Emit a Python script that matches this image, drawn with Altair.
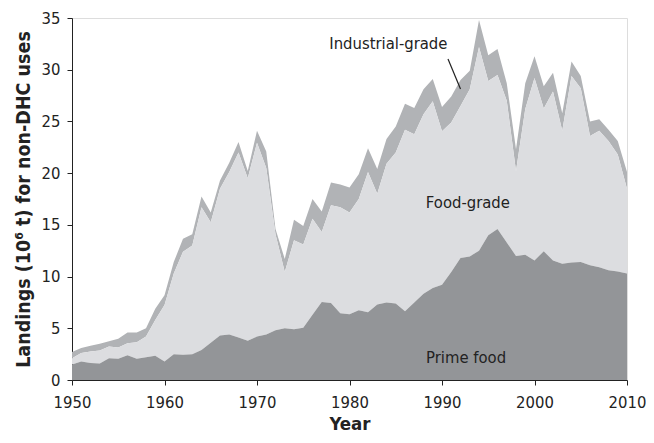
import altair as alt
import pandas as pd

years = list(range(1950, 2011))

# top of "Prime food" band (10^6 t)
prime_top = [1.5, 1.8, 1.65, 1.6, 2.1, 2.05, 2.4, 2.05, 2.2, 2.35,
             1.8, 2.5, 2.45, 2.5, 2.9, 3.6, 4.3, 4.4, 4.1, 3.8,
             4.2, 4.4, 4.8, 5.0, 4.9, 5.05, 6.3, 7.55, 7.45, 6.45,
             6.35, 6.75, 6.55, 7.3, 7.5, 7.4, 6.65, 7.5, 8.35, 8.9,
             9.2, 10.45, 11.8, 11.95, 12.5, 14.0, 14.6, 13.3, 12.0, 12.1,
             11.55, 12.45, 11.55, 11.25, 11.35, 11.4, 11.1, 10.9, 10.6, 10.5,
             10.3]

# top of "Food-grade" band (cumulative)
food_top = [2.1, 2.6, 2.75, 2.85, 3.25, 3.15, 3.55, 3.65, 4.2, 5.8,
            7.25, 10.3, 12.4, 13.0, 16.7, 15.25, 18.5, 20.1, 22.0, 19.5,
            22.95, 20.5, 14.1, 10.45, 13.5, 13.1, 15.6, 14.3, 16.9, 16.7,
            16.2, 17.5, 20.1, 18.0, 20.9, 22.0, 24.2, 23.75, 25.7, 26.95,
            24.05, 24.9, 26.5, 28.1, 32.2, 28.9, 29.5, 27.0, 20.2, 26.2,
            29.2, 26.25, 27.9, 24.1, 29.4, 28.2, 23.6, 24.1, 23.1, 21.8,
            18.5]

# top of "Industrial-grade" band (total)
total_top = [2.7, 3.1, 3.3, 3.5, 3.75, 4.0, 4.6, 4.6, 5.0, 6.9,
             8.2, 11.4, 13.65, 14.1, 17.75, 16.2, 19.3, 21.0, 23.0, 20.2,
             24.1, 22.1, 14.6, 11.7, 15.5, 14.9, 17.5, 16.3, 19.1, 18.9,
             18.6, 19.9, 22.4, 20.4, 23.3, 24.5, 26.7, 26.3, 28.1, 29.1,
             26.4, 27.4, 29.0, 29.9, 34.8, 31.4, 32.0, 28.7, 22.3, 28.7,
             31.3, 28.4, 29.7, 25.8, 30.8, 29.4, 25.0, 25.2, 24.2, 23.1,
             20.1]

labels = ["Industrial-grade", "Food-grade", "Prime food"]
label_x = [1984.2, 1992.8, 1992.6]
label_y = [32.5, 17.1, 2.1]

leader_x = [1990.65, 1992.0]
leader_y = [31.03, 28.14]

FONT = "DejaVu Sans Condensed, Liberation Sans, sans-serif"

df = pd.DataFrame({"year": years, "zero": [0] * len(years),
                   "prime": prime_top, "food": food_top, "total": total_top})
lab = pd.DataFrame({"t": labels, "x": label_x, "y": label_y})
lead = pd.DataFrame({"x": leader_x, "y": leader_y})

xs = alt.Scale(domain=[1950, 2010], nice=False, zero=False)
ys = alt.Scale(domain=[0, 35], nice=False)

xax = alt.Axis(values=list(range(1950, 2011, 10)), format="d", title="Year",
               grid=False, labelFontSize=16.5, titleFontSize=18.5, titleFontWeight="bold",
               tickSize=5, labelPadding=9, titlePadding=4, domainColor="#222",
               tickColor="#222", labelColor="#222", titleColor="#222",
               labelFont=FONT, titleFont=FONT, labelFlush=False)
yax = alt.Axis(values=list(range(0, 36, 5)), title="Landings (10⁶ t) for non-DHC uses",
               grid=False, labelFontSize=16.5, titleFontSize=19.5, titleFontWeight="bold",
               tickSize=5, labelPadding=7, titlePadding=8, domainColor="#222",
               tickColor="#222", labelColor="#222", titleColor="#222",
               labelFont=FONT, titleFont=FONT)

base = alt.Chart(df)
ind = base.mark_area(color="#b1b3b6", opacity=1).encode(
    x=alt.X("year:Q", scale=xs, axis=xax),
    y=alt.Y("food:Q", scale=ys, axis=yax),
    y2="total:Q")
food = base.mark_area(color="#dcdde0", opacity=1).encode(
    x=alt.X("year:Q", scale=xs), y=alt.Y("prime:Q", scale=ys), y2="food:Q")
prime = base.mark_area(color="#939598", opacity=1).encode(
    x=alt.X("year:Q", scale=xs), y=alt.Y("zero:Q", scale=ys), y2="prime:Q")

text = alt.Chart(lab).mark_text(font=FONT, fontSize=16.5, color="#222",
                                align="center", baseline="middle").encode(
    x=alt.X("x:Q", scale=xs), y=alt.Y("y:Q", scale=ys), text="t:N")
line = alt.Chart(lead).mark_line(color="#222", strokeWidth=1.2).encode(
    x=alt.X("x:Q", scale=xs), y=alt.Y("y:Q", scale=ys))

chart = alt.layer(ind, food, prime, text, line).properties(
    width=555, height=362,
    autosize=alt.AutoSizeParams(type="none"),
    padding={"left": 64, "top": 10, "right": 19, "bottom": 55},
).configure_view(stroke=None).configure(background="white")

chart.save("out.html", embed_options={"renderer": "svg", "actions": False})
